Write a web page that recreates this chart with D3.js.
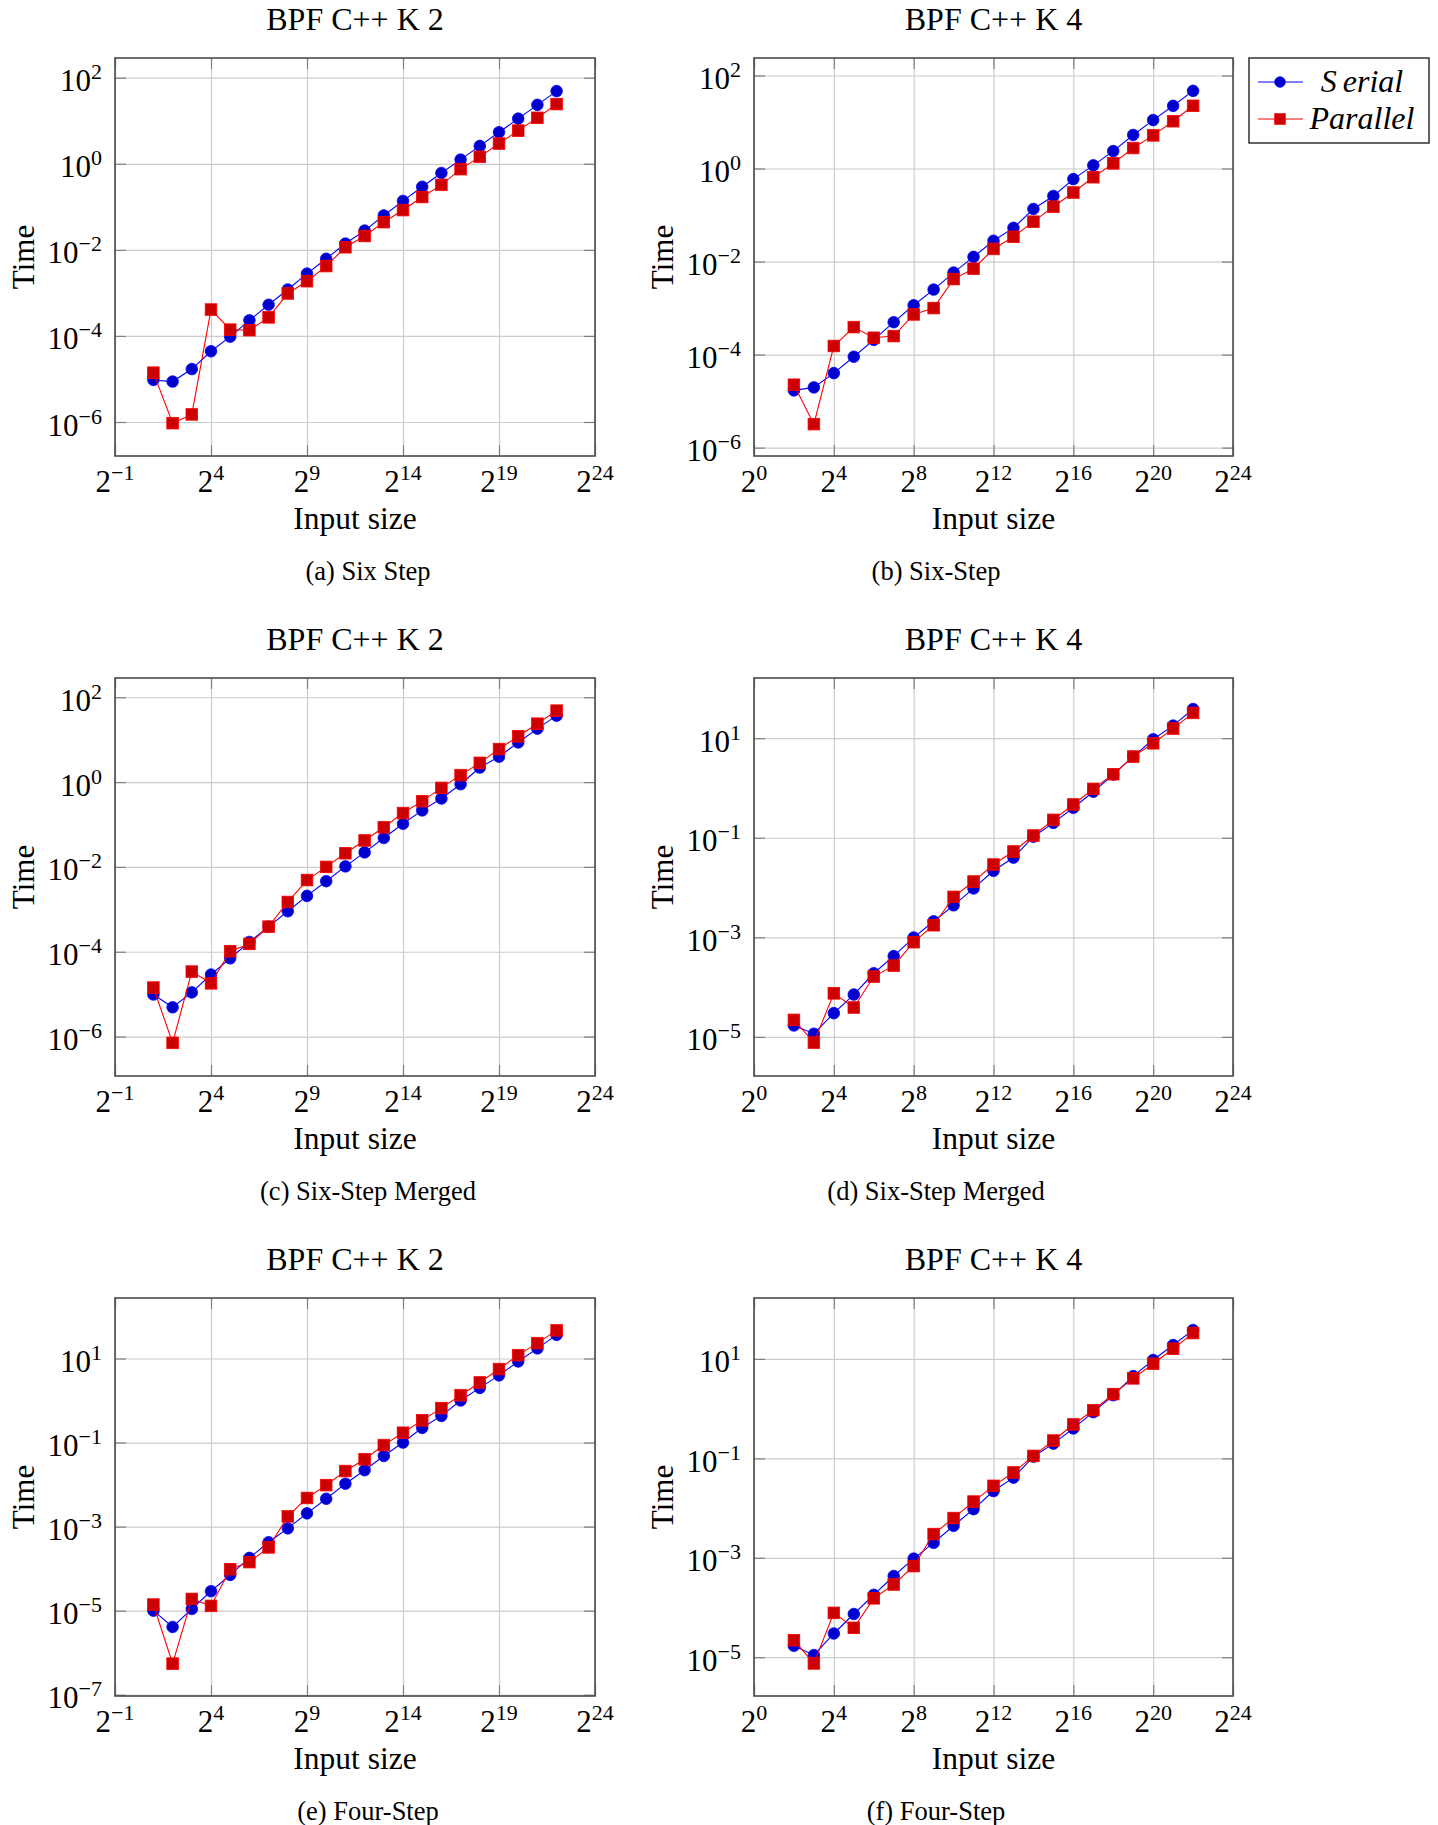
<!DOCTYPE html>
<html>
<head>
<meta charset="utf-8">
<script src="https://cdn.jsdelivr.net/npm/d3@7"></script>
<style>
  body { margin: 0; background: #fff; }
  svg { display: block; font-family: "Liberation Serif", "Times New Roman", serif; }
</style>
</head>
<body>
<svg id="chart" width="1438" height="1825"></svg>
<script>
// input sizes, as powers of two
const expK2 = [1, 2, 3, 4, 5, 6, 7, 8, 9, 10, 11, 12, 13, 14, 15, 16, 17, 18, 19, 20, 21, 22];
const expK4 = [2, 3, 4, 5, 6, 7, 8, 9, 10, 11, 12, 13, 14, 15, 16, 17, 18, 19, 20, 21, 22];

// tick labels (exponents)
const xTicksK2 = [-1, 4, 9, 14, 19, 24];
const xTicksK4 = [0, 4, 8, 12, 16, 20, 24];
const yTicksEven = [2, 0, -2, -4, -6];
const yTicksOdd = [1, -1, -3, -5];
const yTicksOddLong = [1, -1, -3, -5, -7];

// (a) Six Step, K 2
const sixStepK2Serial = [9.5e-6, 8.7e-6, 1.7e-5, 4.4e-5, 9.6e-5, 2.3e-4, 5.3e-4, 1.2e-3, 2.8e-3, 6.2e-3, 1.4e-2,
  2.8e-2, 6.3e-2, 0.137, 0.293, 0.61, 1.25, 2.6, 5.4, 11.2, 23.4, 48.9];
const sixStepK2Parallel = [1.4e-5, 9.4e-7, 1.5e-6, 4.1e-4, 1.4e-4, 1.36e-4, 2.7e-4, 9.7e-4, 1.87e-3, 4.2e-3, 1.15e-2,
  2.1e-2, 4.4e-2, 8.4e-2, 0.169, 0.324, 0.75, 1.45, 2.96, 5.9, 11.7, 24.4];

// (b) Six-Step, K 4
const sixStepK4Serial = [1.7e-5, 1.97e-5, 4.0e-5, 9.0e-5, 2.07e-4, 4.97e-4, 1.15e-3, 2.5e-3, 5.8e-3, 1.26e-2,
  2.8e-2, 5.3e-2, 0.135, 0.257, 0.593, 1.17, 2.37, 5.27, 11.0, 22.3, 46.8];
const sixStepK4Parallel = [2.25e-5, 3.2e-6, 1.53e-4, 3.9e-4, 2.3e-4, 2.5e-4, 7.3e-4, 1.0e-3, 4.2e-3, 7.0e-3,
  1.87e-2, 3.4e-2, 7.2e-2, 0.151, 0.305, 0.65, 1.29, 2.76, 5.16, 10.4, 22.3];

// (c) Six-Step Merged, K 2
const mergedK2Serial = [9.8e-6, 4.9e-6, 1.1e-5, 2.9e-5, 7.0e-5, 1.7e-4, 3.9e-4, 9.0e-4, 2.07e-3, 4.6e-3, 1.03e-2,
  2.2e-2, 4.8e-2, 0.104, 0.215, 0.41, 0.89, 2.2, 3.97, 8.6, 18.2, 36.8];
const mergedK2Parallel = [1.43e-5, 7.1e-7, 3.4e-5, 1.8e-5, 1.03e-4, 1.53e-4, 3.9e-4, 1.49e-3, 4.9e-3, 1.0e-2, 2.1e-2,
  4.2e-2, 8.6e-2, 0.186, 0.355, 0.73, 1.46, 2.84, 6.0, 12.0, 23.8, 48.3];

// (d) Six-Step Merged, K 4
const mergedK4Serial = [1.7e-5, 1.16e-5, 3.0e-5, 7.1e-5, 1.9e-4, 4.2e-4, 9.9e-4, 2.1e-3, 4.4e-3, 9.6e-3,
  2.17e-2, 4.0e-2, 0.105, 0.199, 0.40, 0.84, 1.86, 4.27, 9.5, 17.9, 38.5];
const mergedK4Parallel = [2.2e-5, 7.7e-6, 7.5e-5, 3.9e-5, 1.63e-4, 2.7e-4, 8.0e-4, 1.75e-3, 6.5e-3, 1.32e-2,
  2.9e-2, 5.3e-2, 0.111, 0.229, 0.466, 0.96, 1.89, 4.27, 7.9, 15.6, 32.2];

// (e) Four-Step, K 2
const fourStepK2Serial = [1.0e-5, 4.1e-6, 1.1e-5, 2.9e-5, 7.1e-5, 1.8e-4, 4.25e-4, 9.1e-4, 2.07e-3, 4.6e-3, 1.05e-2,
  2.2e-2, 4.8e-2, 0.1, 0.224, 0.43, 1.0, 2.0, 3.97, 8.5, 17.4, 36.5];
const fourStepK2Parallel = [1.4e-5, 5.5e-7, 1.9e-5, 1.3e-5, 9.7e-5, 1.43e-4, 3.2e-4, 1.75e-3, 4.8e-3, 9.7e-3, 2.1e-2,
  4.0e-2, 8.7e-2, 0.171, 0.337, 0.66, 1.34, 2.69, 5.6, 12.0, 23.2, 46.7];

// (f) Four-Step, K 4
const fourStepK4Serial = [1.7e-5, 1.1e-5, 3.0e-5, 7.4e-5, 1.8e-4, 4.3e-4, 9.6e-4, 2.0e-3, 4.4e-3, 9.5e-3,
  2.2e-2, 4.1e-2, 0.108, 0.198, 0.40, 0.85, 1.86, 4.5, 9.5, 19.0, 38.0];
const fourStepK4Parallel = [2.2e-5, 7.5e-6, 7.8e-5, 3.9e-5, 1.53e-4, 2.9e-4, 6.8e-4, 3.0e-3, 6.3e-3, 1.35e-2,
  2.8e-2, 5.2e-2, 0.112, 0.228, 0.48, 0.93, 1.96, 4.06, 8.0, 16.0, 33.1];

const titles = ['BPF C++ K 2', 'BPF C++ K 4'];
const captions = ['(a) Six Step', '(b) Six-Step', '(c) Six-Step Merged', '(d) Six-Step Merged',
  '(e) Four-Step', '(f) Four-Step'];
const seriesNames = ['Serial', 'Parallel'];

const panels = [
  { exps: expK2, serial: sixStepK2Serial, parallel: sixStepK2Parallel, xTicks: xTicksK2, yTicks: yTicksEven,
    row: 0, col: 0, yDom: [-6.79, 2.458] },
  { exps: expK4, serial: sixStepK4Serial, parallel: sixStepK4Parallel, xTicks: xTicksK4, yTicks: yTicksEven,
    row: 0, col: 1, yDom: [-6.18, 2.376] },
  { exps: expK2, serial: mergedK2Serial, parallel: mergedK2Parallel, xTicks: xTicksK2, yTicks: yTicksEven,
    row: 1, col: 0, yDom: [-6.93, 2.454] },
  { exps: expK4, serial: mergedK4Serial, parallel: mergedK4Parallel, xTicks: xTicksK4, yTicks: yTicksOdd,
    row: 1, col: 1, yDom: [-5.785, 2.209] },
  { exps: expK2, serial: fourStepK2Serial, parallel: fourStepK2Parallel, xTicks: xTicksK2, yTicks: yTicksOddLong,
    row: 2, col: 0, yDom: [-7.03, 2.439] },
  { exps: expK4, serial: fourStepK4Serial, parallel: fourStepK4Parallel, xTicks: xTicksK4, yTicks: yTicksOdd,
    row: 2, col: 1, yDom: [-5.78, 2.225] },
];

// layout
const cols = [
  { left: 115, right: 595, yLabelX: 33.5, captionX: 368 },
  { left: 754, right: 1233, yLabelX: 673, captionX: 936 },
];
const rowStep = 620;
const boxTop = 58;
const boxBottom = 456;
const tickLen = 11;

const styles = {
  Serial: { line: '#0000ff', fill: '#0000cc', stroke: '#0000ff', mark: 'circle' },
  Parallel: { line: '#ff0000', fill: '#cc0000', stroke: '#ff0000', mark: 'square' },
};

const svg = d3.select('#chart');

const supLabel = (sel, base, exp) => {
  sel.append('tspan').text(base);
  sel.append('tspan')
    .attr('font-size', 22)
    .attr('dy', -12)
    .text(exp < 0 ? '\u2212' + Math.abs(exp) : String(exp));
};

const drawMark = (g, kind, cx, cy, st, size) => {
  if (kind === 'circle') {
    g.append('circle')
      .attr('cx', cx).attr('cy', cy).attr('r', size)
      .attr('fill', st.fill).attr('stroke', st.stroke).attr('stroke-width', 0.8);
  } else {
    g.append('rect')
      .attr('x', cx - size).attr('y', cy - size).attr('width', 2 * size).attr('height', 2 * size)
      .attr('fill', st.fill).attr('stroke', st.stroke).attr('stroke-width', 0.8);
  }
};

panels.forEach((p, i) => {
  const c = cols[p.col];
  const top = boxTop + p.row * rowStep;
  const bottom = boxBottom + p.row * rowStep;
  const w = c.right - c.left;
  const h = bottom - top;

  const x = d3.scaleLog().base(2)
    .domain([Math.pow(2, p.xTicks[0]), Math.pow(2, p.xTicks[p.xTicks.length - 1])])
    .range([c.left, c.right]);
  const y = d3.scaleLog()
    .domain([Math.pow(10, p.yDom[0]), Math.pow(10, p.yDom[1])])
    .range([bottom, top]);

  const xVals = p.xTicks.map(e => Math.pow(2, e));
  const yVals = p.yTicks.map(e => Math.pow(10, e));

  // grid
  svg.append('g')
    .attr('transform', `translate(0, ${bottom})`)
    .call(d3.axisBottom(x).tickValues(xVals).tickSize(-h).tickFormat(''))
    .call(g => g.select('.domain').remove())
    .call(g => g.selectAll('line').attr('stroke', '#cccccc').attr('stroke-width', 1.2));
  svg.append('g')
    .attr('transform', `translate(${c.left}, 0)`)
    .call(d3.axisLeft(y).tickValues(yVals).tickSize(-w).tickFormat(''))
    .call(g => g.select('.domain').remove())
    .call(g => g.selectAll('line').attr('stroke', '#cccccc').attr('stroke-width', 1.2));

  // inner tick marks on all four sides
  const tickStyle = g => {
    g.select('.domain').remove();
    g.selectAll('line').attr('stroke', '#808080').attr('stroke-width', 1.2);
  };
  svg.append('g').attr('transform', `translate(0, ${bottom})`)
    .call(d3.axisBottom(x).tickValues(xVals).tickSize(-tickLen).tickFormat('')).call(tickStyle);
  svg.append('g').attr('transform', `translate(0, ${top})`)
    .call(d3.axisTop(x).tickValues(xVals).tickSize(-tickLen).tickFormat('')).call(tickStyle);
  svg.append('g').attr('transform', `translate(${c.left}, 0)`)
    .call(d3.axisLeft(y).tickValues(yVals).tickSize(-tickLen).tickFormat('')).call(tickStyle);
  svg.append('g').attr('transform', `translate(${c.right}, 0)`)
    .call(d3.axisRight(y).tickValues(yVals).tickSize(-tickLen).tickFormat('')).call(tickStyle);

  // axis box
  svg.append('rect')
    .attr('x', c.left).attr('y', top).attr('width', w).attr('height', h)
    .attr('fill', 'none').attr('stroke', '#4a4a4a').attr('stroke-width', 1.6);

  // tick labels
  p.xTicks.forEach(e => {
    const t = svg.append('text')
      .attr('x', x(Math.pow(2, e)))
      .attr('y', bottom + 36)
      .attr('text-anchor', 'middle')
      .attr('font-size', 31);
    supLabel(t, '2', e);
  });
  p.yTicks.forEach(e => {
    const t = svg.append('text')
      .attr('x', c.left - 13)
      .attr('y', y(Math.pow(10, e)) + 13.5)
      .attr('text-anchor', 'end')
      .attr('font-size', 31);
    supLabel(t, '10', e);
  });

  // series
  const clip = `clip${i}`;
  svg.append('clipPath').attr('id', clip)
    .append('rect').attr('x', c.left).attr('y', top).attr('width', w).attr('height', h);
  const plot = svg.append('g').attr('clip-path', `url(#${clip})`);

  [['Serial', p.serial], ['Parallel', p.parallel]].forEach(([name, vals]) => {
    const st = styles[name];
    const pts = p.exps.map((e, k) => [x(Math.pow(2, e)), y(vals[k])]);
    plot.append('path')
      .attr('d', d3.line()(pts))
      .attr('fill', 'none')
      .attr('stroke', st.line)
      .attr('stroke-width', 1.1);
    pts.forEach(([px, py]) => drawMark(plot, st.mark, px, py, st, 5.8));
  });

  // titles and labels
  svg.append('text')
    .attr('x', (c.left + c.right) / 2)
    .attr('y', top - 28)
    .attr('text-anchor', 'middle')
    .attr('font-size', 32)
    .text(titles[p.col]);
  svg.append('text')
    .attr('x', (c.left + c.right) / 2)
    .attr('y', bottom + 73)
    .attr('text-anchor', 'middle')
    .attr('font-size', 31.5)
    .text('Input size');
  svg.append('text')
    .attr('transform', `translate(${c.yLabelX}, ${(top + bottom) / 2}) rotate(-90)`)
    .attr('text-anchor', 'middle')
    .attr('font-size', 31)
    .text('Time');
  svg.append('text')
    .attr('x', c.captionX)
    .attr('y', bottom + 124)
    .attr('text-anchor', 'middle')
    .attr('font-size', 26.5)
    .text(captions[i]);
});

// legend
const legend = svg.append('g');
legend.append('rect')
  .attr('x', 1249).attr('y', 58).attr('width', 180).attr('height', 85)
  .attr('fill', '#fff').attr('stroke', '#222').attr('stroke-width', 1.4);
seriesNames.forEach((name, k) => {
  const st = styles[name];
  const cy = 82 + k * 37;
  legend.append('line')
    .attr('x1', 1258).attr('x2', 1303).attr('y1', cy).attr('y2', cy)
    .attr('stroke', st.line).attr('stroke-width', 1.1);
  drawMark(legend, st.mark, 1280, cy, st, 5.3);
  const t = legend.append('text')
    .attr('x', 1362)
    .attr('y', cy + 9.5)
    .attr('text-anchor', 'middle')
    .attr('font-size', 32)
    .attr('font-style', 'italic');
  if (name === 'Serial') {
    t.append('tspan').text('S');
    t.append('tspan').attr('dx', 6).text('erial');
  } else {
    t.text(name);
  }
});
</script>
</body>
</html>
